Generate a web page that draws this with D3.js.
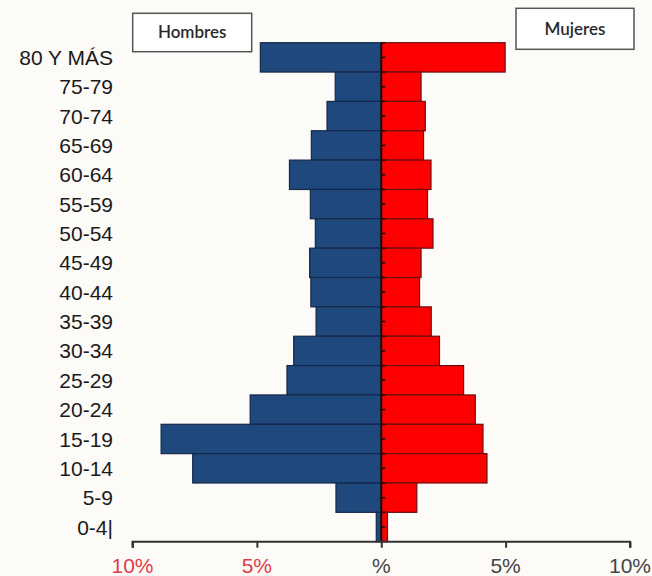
<!DOCTYPE html>
<html lang="es">
<head>
    <meta charset="UTF-8">
    <title>Pirámide de población</title>
    <script src="https://d3js.org/d3.v7.min.js"></script>
    <style>
        body {
            margin: 0;
            background: #fdfbf8;
        }
        .edad {
            font-family: 'Liberation Sans', Arial, sans-serif;
            font-size: 21px;
            fill: #1a1a1a;
            text-anchor: end;
        }
        .tick-label {
            font-family: 'Liberation Sans', Arial, sans-serif;
            font-size: 21px;
            text-anchor: middle;
        }
        .leyenda {
            font-family: Lato, 'Open Sans', sans-serif;
            font-size: 17px;
            font-weight: 600;
            fill: #2a2a2a;
            text-anchor: middle;
        }
    </style>
</head>
<body>
    <svg id="piramide"></svg>

    <script>
        // Datos (porcentajes)
        const edades = ["80 Y MÁS", "75-79", "70-74", "65-69", "60-64", "55-59", "50-54", "45-49",
            "40-44", "35-39", "30-34", "25-29", "20-24", "15-19", "10-14", "5-9", "0-4|"];
        const hombres = [4.86, 1.85, 2.18, 2.81, 3.69, 2.85, 2.65, 2.88,
            2.83, 2.62, 3.52, 3.79, 5.27, 8.85, 7.58, 1.82, 0.2];
        const mujeres = [4.98, 1.6, 1.77, 1.7, 2.0, 1.86, 2.08, 1.6,
            1.54, 2.01, 2.34, 3.31, 3.78, 4.09, 4.25, 1.43, 0.25];
        const ticks = [-10, -5, 0, 5, 10];
        const tickLabels = ["10%", "5%", "%", "5%", "10%"];

        const width = 652, height = 576;
        const svg = d3.select("#piramide")
            .attr("width", width)
            .attr("height", height);

        const x = d3.scaleLinear().domain([-10, 10]).range([132.5, 630]);
        const y = d3.scaleBand().domain(edades).range([42.7, 541.7]).padding(0);

        // Barras hombres
        svg.append("g")
            .selectAll("rect")
            .data(edades)
            .join("rect")
            .attr("x", (d, i) => x(-hombres[i]))
            .attr("y", d => y(d))
            .attr("width", (d, i) => x(0) - x(-hombres[i]))
            .attr("height", y.bandwidth())
            .attr("fill", "#1f487c")
            .attr("stroke", "#14284a")
            .attr("stroke-width", 1.2);

        // Barras mujeres
        svg.append("g")
            .selectAll("rect")
            .data(edades)
            .join("rect")
            .attr("x", x(0))
            .attr("y", d => y(d))
            .attr("width", (d, i) => x(mujeres[i]) - x(0))
            .attr("height", y.bandwidth())
            .attr("fill", "#ff0000")
            .attr("stroke", "#6e0d0d")
            .attr("stroke-width", 1.2);

        // Eje central con marcas pequeñas
        const centro = svg.append("g");
        centro.append("line")
            .attr("x1", x(0)).attr("x2", x(0))
            .attr("y1", y.range()[0]).attr("y2", y.range()[1])
            .attr("stroke", "#111")
            .attr("stroke-width", 2);
        const marcas = [];
        edades.forEach(d => {
            marcas.push(y(d));
            marcas.push(y(d) + y.bandwidth() / 2);
        });
        centro.selectAll("line.marca")
            .data(marcas)
            .join("line")
            .attr("class", "marca")
            .attr("x1", x(0)).attr("x2", x(0) + 4)
            .attr("y1", d => d).attr("y2", d => d)
            .attr("stroke", "#111")
            .attr("stroke-width", 1.5);

        // Etiquetas de edad
        svg.append("g")
            .selectAll("text")
            .data(edades)
            .join("text")
            .attr("class", "edad")
            .attr("x", 113)
            .attr("y", d => y(d) + y.bandwidth() / 2)
            .attr("dy", "0.36em")
            .text(d => d);

        // Eje horizontal
        const axisY = y.range()[1];
        const eje = svg.append("g").attr("transform", `translate(0,${axisY})`);
        eje.call(d3.axisBottom(x).tickValues(ticks).tickSize(6).tickFormat(""));
        eje.select(".domain").attr("stroke", "#333").attr("stroke-width", 2)
            .attr("d", `M${x(-10)},6V0H${x(10)}V6`);
        eje.selectAll(".tick line").attr("stroke", "#333").attr("stroke-width", 2);

        svg.append("g")
            .selectAll("text")
            .data(ticks)
            .join("text")
            .attr("class", "tick-label")
            .attr("x", d => x(d))
            .attr("y", axisY + 31)
            .attr("fill", d => d < 0 ? "#e23a48" : "#444")
            .text((d, i) => tickLabels[i]);

        // Leyendas
        const leyendas = [
            {texto: "Hombres", x0: 132.7, y0: 13.3, w: 119, h: 38.4},
            {texto: "Mujeres", x0: 516, y0: 8.3, w: 118, h: 41}
        ];
        const ley = svg.append("g")
            .selectAll("g")
            .data(leyendas)
            .join("g");
        ley.append("rect")
            .attr("x", d => d.x0).attr("y", d => d.y0)
            .attr("width", d => d.w).attr("height", d => d.h)
            .attr("fill", "#fff")
            .attr("stroke", "#555")
            .attr("stroke-width", 1.5);
        ley.append("text")
            .attr("class", "leyenda")
            .attr("x", d => d.x0 + d.w / 2)
            .attr("y", d => d.y0 + d.h / 2)
            .attr("dy", "0.35em")
            .text(d => d.texto);
    </script>
</body>
</html>
